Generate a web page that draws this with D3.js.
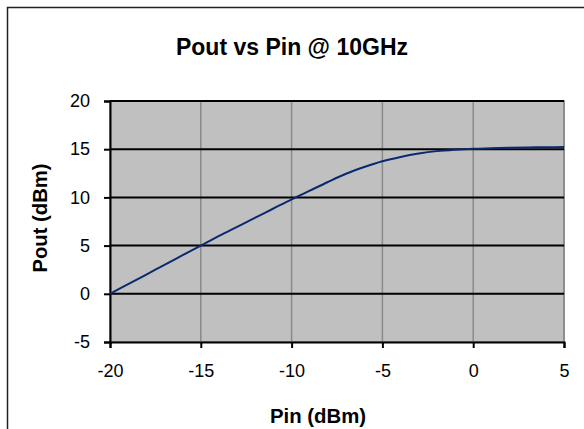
<!DOCTYPE html>
<html>
<head>
<meta charset="utf-8">
<script src="https://cdn.jsdelivr.net/npm/d3@7"></script>
<style>
  html, body { margin: 0; padding: 0; background: #fff; }
  svg { display: block; }
  text { font-family: "Liberation Sans", Arial, sans-serif; }
</style>
</head>
<body>
<div id="chart"></div>
<script>
const title = "Pout vs Pin @ 10GHz";
const xTitle = "Pin (dBm)";
const yTitle = "Pout (dBm)";
const pinValues = [-20,-19,-18,-17,-16,-15,-14,-13,-12,-11,-10,-9,-8,-7,-6,-5,-4,-3,-2,-1,0,1,2,3,4,5];
const poutValues = [0,1.0,2.0,3.0,4.0,5.0,6.0,6.95,7.9,8.85,9.8,10.7,11.6,12.45,13.15,13.75,14.2,14.55,14.8,14.95,15.05,15.1,15.15,15.18,15.2,15.22];
const xTicks = [-20,-15,-10,-5,0,5];
const yTicks = [-5,0,5,10,15,20];

const W = 584, H = 429;
const svg = d3.select("#chart").append("svg").attr("width", W).attr("height", H);

// outer chart frame
svg.append("rect").attr("x", 7.5).attr("y", 7.5).attr("width", 700).attr("height", 600)
  .attr("fill", "#fff").attr("stroke", "#222").attr("stroke-width", 1.5);

const plot = {left: 110, right: 564, top: 101, bottom: 342};
const x = d3.scaleLinear().domain([-20, 5]).range([plot.left, plot.right]);
const y = d3.scaleLinear().domain([-5, 20]).range([plot.bottom, plot.top]);

// plot background
svg.append("rect").attr("x", plot.left).attr("y", plot.top)
  .attr("width", plot.right - plot.left).attr("height", plot.bottom - plot.top)
  .attr("fill", "#c0c0c0").attr("stroke", "#808080").attr("stroke-width", 1.5);

// vertical gridlines
svg.append("g").selectAll("line").data(xTicks.slice(1)).join("line")
  .attr("x1", d => x(d)).attr("x2", d => x(d))
  .attr("y1", plot.top).attr("y2", plot.bottom)
  .attr("stroke", "#8a8a8a").attr("stroke-width", 1.5);

// horizontal gridlines
svg.append("g").selectAll("line").data(yTicks.slice(1)).join("line")
  .attr("x1", plot.left).attr("x2", plot.right)
  .attr("y1", d => y(d)).attr("y2", d => y(d))
  .attr("stroke", "#000").attr("stroke-width", 2);

// axes
const fmt = d => String(d);
const xAxis = svg.append("g").attr("transform", `translate(0,${plot.bottom})`)
  .call(d3.axisBottom(x).tickValues(xTicks).tickSize(6).tickPadding(16).tickFormat(fmt));
const yAxis = svg.append("g").attr("transform", `translate(${plot.left},0)`)
  .call(d3.axisLeft(y).tickValues(yTicks).tickSize(6).tickPadding(14).tickFormat(fmt));
[xAxis, yAxis].forEach(g => {
  g.select(".domain").attr("stroke", "#000").attr("stroke-width", 2);
  g.selectAll(".tick line").attr("stroke", "#000").attr("stroke-width", 2);
  g.selectAll(".tick text").attr("fill", "#000").style("font-size", "18px")
    .style("font-family", "'Liberation Sans', Arial, sans-serif");
});
xAxis.selectAll(".tick text").attr("dy", "0.71em");

// data line
const line = d3.line().x((d, i) => x(pinValues[i])).y(d => y(d)).curve(d3.curveMonotoneX);
svg.append("path").datum(poutValues).attr("d", line)
  .attr("fill", "none").attr("stroke", "#0a2a70").attr("stroke-width", 2);

// titles
svg.append("text").attr("x", 292).attr("y", 55).attr("text-anchor", "middle")
  .style("font-size", "23px").style("font-weight", "bold").text(title);
svg.append("text").attr("x", 318).attr("y", 423).attr("text-anchor", "middle")
  .style("font-size", "20px").style("font-weight", "bold")
  .attr("textLength", 96).attr("lengthAdjust", "spacingAndGlyphs").text(xTitle);
svg.append("text").attr("transform", "translate(47,218) rotate(-90)").attr("text-anchor", "middle")
  .style("font-size", "21px").style("font-weight", "bold")
  .attr("textLength", 109).attr("lengthAdjust", "spacingAndGlyphs").text(yTitle);
</script>
</body>
</html>
